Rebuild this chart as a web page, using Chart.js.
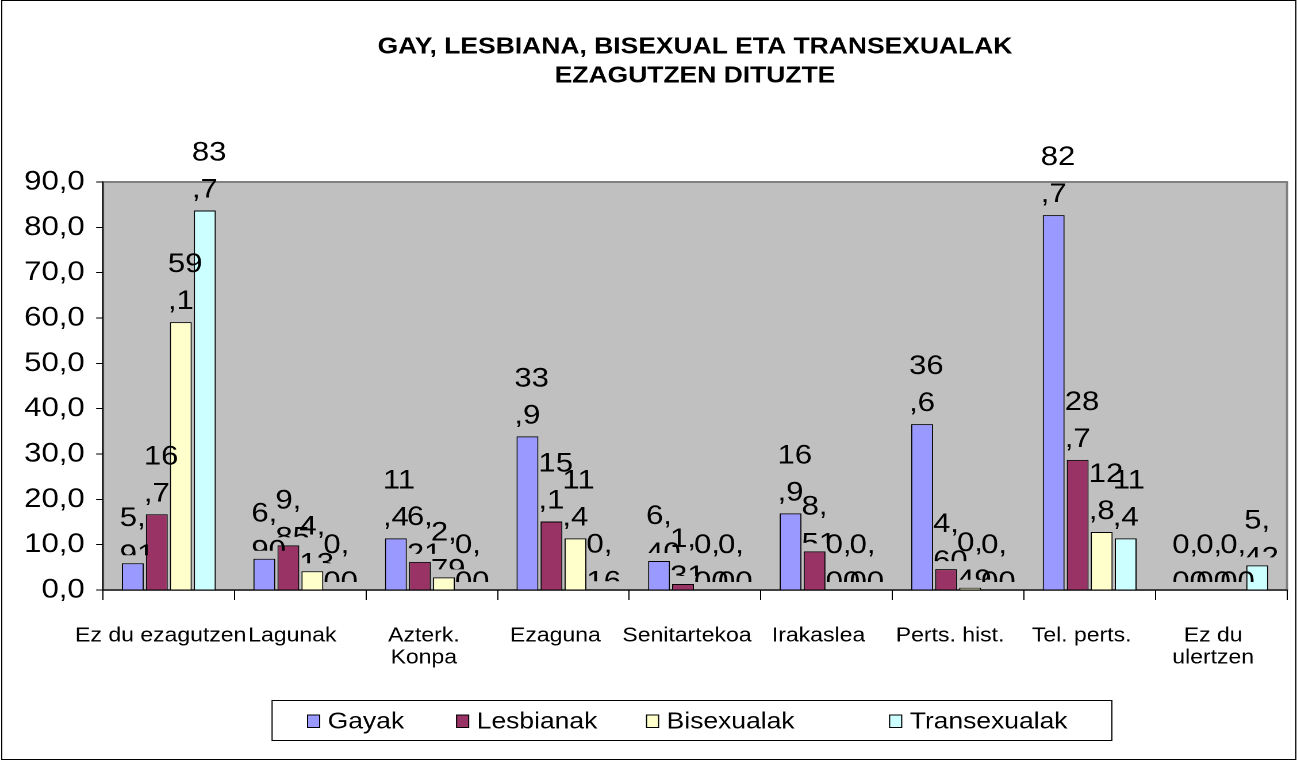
<!DOCTYPE html>
<html>
<head>
<meta charset="utf-8">
<script src="https://cdn.jsdelivr.net/npm/chart.js@4.4.1/dist/chart.umd.min.js"></script>
<style>
  html, body { margin: 0; padding: 0; background: #fff; overflow: hidden; }
  #c { display: block; width: 1297px !important; height: 760px !important; }
</style>
</head>
<body>
<canvas id="c" width="1128" height="760" style="width:1297px;height:760px;display:block"></canvas>
<script>
// ---- data ----
const titleLines = ['GAY, LESBIANA, BISEXUAL ETA TRANSEXUALAK', 'EZAGUTZEN DITUZTE'];
const categories = ['Ez du ezagutzen', 'Lagunak', ['Azterk.', 'Konpa'], 'Ezaguna', 'Senitartekoa',
                    'Irakaslea', 'Perts. hist.', 'Tel. perts.', ['Ez du', 'ulertzen']];
const seriesNames = ['Gayak', 'Lesbianak', 'Bisexualak', 'Transexualak'];
const gayak        = [5.91, 6.90, 11.4, 33.9, 6.40, 16.9, 36.6, 82.7, 0.00];
const lesbianak    = [16.7, 9.85, 6.21, 15.1, 1.31, 8.51, 4.60, 28.7, 0.00];
const bisexualak   = [59.1, 4.13, 2.79, 11.4, 0.00, 0.00, 0.49, 12.8, 0.00];
const transexualak = [83.7, 0.00, 0.00, 0.16, 0.00, 0.00, 0.00, 11.4, 5.42];
const yTicks = [0, 10, 20, 30, 40, 50, 60, 70, 80, 90];

const colors = ['#9999FF', '#993366', '#FFFFCC', '#CCFFFF'];
const FONT = "'Liberation Sans', Arial, sans-serif";
const W = 1128, H = 760;

function fmtVal(v) {
  return (v < 10 ? v.toFixed(2) : v.toFixed(1)).replace('.', ',');
}

const decor = {
  id: 'decor',
  beforeDraw(chart) {
    const ctx = chart.ctx, a = chart.chartArea;
    ctx.save();
    ctx.fillStyle = '#fff';
    ctx.fillRect(0, 0, W, H);
    ctx.fillStyle = '#C0C0C0';
    ctx.fillRect(a.left, a.top, a.right - a.left, a.bottom - a.top);
    ctx.strokeStyle = '#808080';
    ctx.lineWidth = 2;
    ctx.strokeRect(a.left, a.top, a.right - a.left, a.bottom - a.top);
    ctx.restore();
  },
  afterDatasetsDraw(chart) {
    const ctx = chart.ctx;
    ctx.save();
    ctx.font = '27px ' + FONT;
    ctx.fillStyle = '#000';
    ctx.textAlign = 'left';
    ctx.textBaseline = 'alphabetic';
    chart.data.datasets.forEach((ds, di) => {
      const meta = chart.getDatasetMeta(di);
      meta.data.forEach((bar, i) => {
        const v = ds.data[i];
        const s = fmtVal(v);
        const l1 = s.slice(0, 2), l2 = s.slice(2);
        const base = v >= 10 ? bar.y - 13 : bar.y;
        const x = bar.x - 11.3;
        ctx.save();
        ctx.beginPath();
        ctx.rect(0, 0, W, bar.y - 8);
        ctx.clip();
        ctx.fillText(l1, x, base - 37);
        ctx.fillText(l2, x, base);
        ctx.restore();
      });
    });
    ctx.restore();
  },
  afterDraw(chart) {
    const ctx = chart.ctx, a = chart.chartArea;
    ctx.save();
    // title
    ctx.fillStyle = '#000';
    ctx.font = 'bold 23px ' + FONT;
    ctx.textAlign = 'center';
    ctx.textBaseline = 'middle';
    const cx = (a.left + a.right) / 2;
    titleLines.forEach((t, i) => ctx.fillText(t, cx, 47 + i * 29));
    // legend
    const lx = [267, 396.6, 561.8, 773.2];
    const ly = 721;
    ctx.font = '23px ' + FONT;
    ctx.textAlign = 'left';
    chart.data.datasets.forEach((ds, i) => {
      ctx.fillStyle = ds.backgroundColor;
      ctx.fillRect(lx[i], ly - 6.5, 11, 13);
      ctx.strokeStyle = '#000';
      ctx.lineWidth = 1;
      ctx.strokeRect(lx[i] + 0.5, ly - 6, 10.5, 12.5);
      ctx.fillStyle = '#000';
      ctx.fillText(ds.label, lx[i] + 18, ly + 1);
    });
    ctx.strokeStyle = '#000';
    ctx.lineWidth = 1;
    ctx.strokeRect(236.6, 700.5, 730.4, 40);
    // outer frame
    ctx.strokeRect(1.5, 0.5, W - 2.5, H - 1);
    ctx.restore();
  }
};

const seriesData = [gayak, lesbianak, bisexualak, transexualak];

new Chart(document.getElementById('c'), {
  type: 'bar',
  data: {
    labels: categories,
    datasets: seriesNames.map((n, i) => ({
      label: n,
      data: seriesData[i],
      backgroundColor: colors[i],
      borderColor: '#000',
      borderWidth: 1,
      categoryPercentage: 0.73,
      barPercentage: 0.91
    }))
  },
  options: {
    responsive: false,
    devicePixelRatio: 2,
    animation: false,
    events: [],
    layout: { padding: { top: 182, left: 0, right: 8.7, bottom: 90 } },
    plugins: { legend: { display: false }, title: { display: false }, tooltip: { enabled: false } },
    scales: {
      x: {
        offset: true,
        grid: { offset: true, drawOnChartArea: false, drawTicks: true, tickLength: 10, color: '#000' },
        border: { display: true, color: '#000', width: 1 },
        ticks: {
          color: '#000', autoSkip: false, maxRotation: 0, minRotation: 0, padding: 25,
          labelOffset: -7,
          font: { family: FONT, size: 20, lineHeight: 1.1 }
        },
        afterFit(s) { s.height = 80; }
      },
      y: {
        min: 0, max: 90,
        afterBuildTicks(s) { s.ticks = yTicks.map(v => ({ value: v })); },
        grid: { drawOnChartArea: false, drawTicks: true, tickLength: 6, color: '#000' },
        border: { display: true, color: '#000', width: 1 },
        ticks: {
          color: '#000', padding: 10, autoSkip: false,
          font: { family: FONT, size: 27 },
          callback: v => v.toFixed(1).replace('.', ',')
        },
        afterFit(s) { s.width = 89.6; }
      }
    }
  },
  plugins: [decor]
});
</script>
</body>
</html>
